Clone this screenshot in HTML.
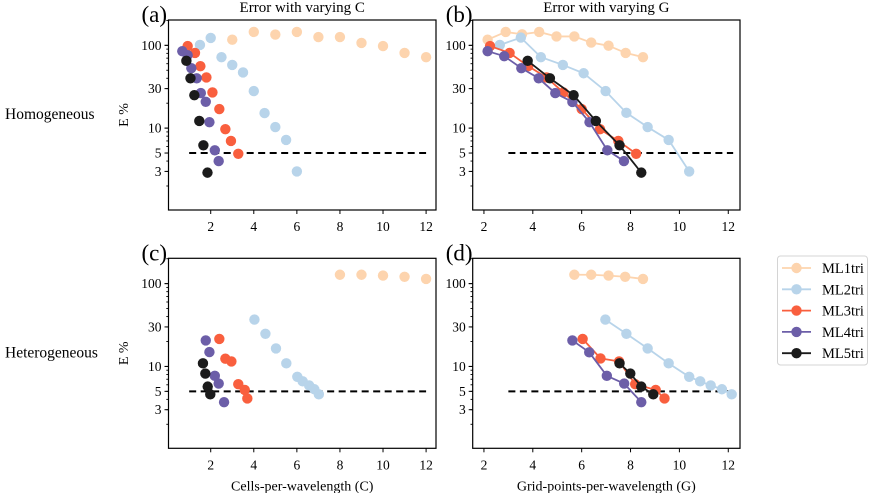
<!DOCTYPE html>
<html><head><meta charset="utf-8"><style>
html,body{margin:0;padding:0;background:#fff}
svg, svg text{font-family:"Liberation Serif","DejaVu Serif",serif}
</style></head><body>
<svg id="chart" width="869" height="493" viewBox="0 0 869 493" xmlns="http://www.w3.org/2000/svg" font-family="Liberation Serif, serif"></svg>
<script>
const seriesNames=["ML1tri","ML2tri","ML3tri","ML4tri","ML5tri"];
const seriesColors=["#fdd4ae","#b8d4ea","#f95f3e","#6c5ea8","#1b1b1b"];
const yTicks=[100,30,10,5,3];
const xTicks=[2,4,6,8,10,12];
// Panel (a): homogeneous, varying C
const aX=[[3,4,5,6,7,8,9,10,11,12],[1.5,2,2.5,3,3.5,4,4.5,5,5.5,6],[0.93,1.27,1.52,1.8,2.08,2.4,2.68,2.94,3.28],[0.68,0.93,1.1,1.35,1.54,1.77,1.94,2.19,2.37],[0.87,1.06,1.24,1.47,1.66,1.85]];
const aY=[[117,145,135,145,126,126,107,98,81,72],[101,123,72,58,47,28,15.2,10.3,7.2,3.0],[98,81,56,41,27,17,9.7,7.0,4.9],[85,76,53,40,26.5,20.8,11.8,5.4,4.0],[65,40,25,12.2,6.2,2.9]];
// Panel (b): homogeneous, varying G
const bX=[[2.15,2.89,3.56,4.26,4.97,5.7,6.39,7.1,7.8,8.51],[2.65,3.51,4.33,5.23,6.08,6.98,7.83,8.7,9.56,10.4],[2.25,3.05,3.81,4.56,5.25,6.0,6.75,7.5,8.23],[2.15,2.83,3.53,4.24,4.92,5.62,6.32,7.05,7.73],[3.79,4.7,5.67,6.58,7.55,8.44]];
const bY=[[117,145,136,145,128,128,108,99,81,72],[101,124,72,58,46,28,15.3,10.3,7.2,3.0],[98,81,56,41,27,17,9.7,7.0,4.9],[85,74,53,40,26.5,20.7,11.8,5.4,4.0],[65,40,25,12.2,6.2,2.9]];
// Panel (c): heterogeneous, varying C
const cX=[[8,9,10,11,12],[4.03,4.54,5.03,5.51,6.02,6.27,6.57,6.81,7.02],[2.4,2.68,2.96,3.28,3.58,3.7],[1.77,1.94,2.19,2.37,2.62],[1.64,1.75,1.86,1.98]];
const cY=[[128,128,125,121,114],[36.8,24.8,16.5,10.9,7.5,6.6,5.9,5.3,4.6],[21.5,12.4,11.5,6.1,5.2,4.1],[20.6,14.9,7.7,6.2,3.7],[10.9,8.2,5.7,4.6]];
// Panel (d): heterogeneous, varying G
const dX=[[5.7,6.39,7.1,7.78,8.51],[6.97,7.83,8.7,9.56,10.4,10.85,11.28,11.74,12.14],[6.04,6.77,7.53,8.19,9.03,9.39],[5.62,6.31,7.03,7.74,8.44],[7.55,7.99,8.44,8.93]];
const dY=[[128,128,125,121,114],[36.8,24.8,16.5,10.9,7.5,6.6,5.9,5.3,4.6],[21.5,12.5,11.5,6.1,5.2,4.1],[20.6,14.8,7.7,6.2,3.7],[10.9,8.2,5.7,4.6]];
const thresholdY=5;

const NS="http://www.w3.org/2000/svg";
const svg=document.getElementById("chart");
function mk(tag,attrs,parent){const e=document.createElementNS(NS,tag);for(const k in attrs)e.setAttribute(k,attrs[k]);if(tag==="text")e.setAttribute("font-family","Liberation Serif, serif");(parent||svg).appendChild(e);return e;}

const panels=[
 {id:"a",xs:aX,ys:aY,lines:false,L:168.5,R:436,T:20,B:210,x0:0.04,x1:12.46,title:"Error with varying C",dash:[1,12],xlabel:null,ylab:true},
 {id:"b",xs:bX,ys:bY,lines:true,L:472.7,R:740,T:20,B:210,x0:1.54,x1:12.48,title:"Error with varying G",dash:[3,12.2],xlabel:null,ylab:false},
 {id:"c",xs:cX,ys:cY,lines:false,L:168.5,R:436,T:258.3,B:448.3,x0:0.04,x1:12.46,title:null,dash:[1,12],xlabel:"Cells-per-wavelength (C)",ylab:true},
 {id:"d",xs:dX,ys:dY,lines:true,L:472.7,R:740,T:258.3,B:448.3,x0:1.54,x1:12.48,title:null,dash:[3,12.2],xlabel:"Grid-points-per-wavelength (G)",ylab:false}
];
const ly0=0.011, ly1=2.306;

panels.forEach(p=>{
 const g=mk("g",{});
 
 
 const sx=v=>p.L+(v-p.x0)/(p.x1-p.x0)*(p.R-p.L);
 const sy=v=>p.B-(Math.log10(v)-ly0)/(ly1-ly0)*(p.B-p.T);
 const th=mk("line",{x1:sx(p.dash[0]),x2:sx(p.dash[1]),y1:sy(thresholdY),y2:sy(thresholdY),stroke:"#000","stroke-width":2,"stroke-dasharray":"7,4.5"},g);
 
 
 p.xs.forEach((xs,si)=>{
  const sg=mk("g",{},g);
  
  
  if(p.lines){
   const pts=xs.map((x,i)=>sx(x)+","+sy(p.ys[si][i])).join(" ");
   const pl=mk("polyline",{points:pts,fill:"none",stroke:seriesColors[si],"stroke-width":1.8},sg);
   
   
  }
  xs.forEach((x,i)=>{
   const c=mk("circle",{cx:sx(x),cy:sy(p.ys[si][i]),r:5.2,fill:seriesColors[si]},sg);
   
   
  });
 });
 const fr=mk("rect",{x:p.L,y:p.T,width:p.R-p.L,height:p.B-p.T,fill:"none",stroke:"#000","stroke-width":1.2},g);
 
 
 xTicks.forEach(t=>{
  const x=sx(t);
  mk("line",{x1:x,x2:x,y1:p.B,y2:p.B+4,stroke:"#000","stroke-width":1},g);
  const tx=mk("text",{x:x,y:p.B+21,"text-anchor":"middle","font-size":13.5},g);
  tx.textContent=t;
  
  
 });
 for(let d=1;d<=100;d*=10){for(let m=1;m<10;m++){const v=d*m;const lv=Math.log10(v);if(lv<ly0||lv>ly1)continue;const y=sy(v);mk("line",{x1:p.L-(m===1?4:2.2),x2:p.L,y1:y,y2:y,stroke:"#000","stroke-width":0.9},g);}}
 yTicks.forEach(t=>{
  const y=sy(t);
  mk("line",{x1:p.L-4,x2:p.L,y1:y,y2:y,stroke:"#000","stroke-width":1},g);
  const tx=mk("text",{x:p.L-7,y:y+4.5,"text-anchor":"end","font-size":13.5},g);
  tx.textContent=t;
  
  
 });
 const pl=mk("text",{x:p.L-27,y:p.T+2,"font-size":23},g);
 pl.textContent="("+p.id+")";
 
 
 if(p.title){const t=mk("text",{x:(p.L+p.R)/2,y:p.T-8,"text-anchor":"middle","font-size":15},g);t.textContent=p.title;
  
  }
 if(p.xlabel){const t=mk("text",{x:(p.L+p.R)/2,y:p.B+42,"text-anchor":"middle","font-size":14},g);t.textContent=p.xlabel;
  
  }
 if(p.ylab){const cy=(p.T+p.B)/2;const t=mk("text",{x:128,y:cy,"text-anchor":"middle","font-size":14,transform:"rotate(-90 128 "+cy+")"},g);t.textContent="E %";
  
  
  const r=mk("text",{x:5,y:cy+4,"font-size":15.5},g);r.textContent=p.id==="a"?"Homogeneous":"Heterogeneous";
  
  }
});

const lg=mk("g",{});


mk("rect",{x:777.5,y:256,width:90,height:109,rx:3,fill:"#fff",stroke:"#d4d4d4","stroke-width":1},lg);
seriesNames.forEach((n,i)=>{
 const y=268+i*21.3;
 const e=mk("g",{},lg);
 
 
 mk("line",{x1:782,x2:811,y1:y,y2:y,stroke:seriesColors[i],"stroke-width":1.8},e);
 mk("circle",{cx:796.5,cy:y,r:5.2,fill:seriesColors[i]},e);
 const t=mk("text",{x:822,y:y+5,"font-size":14.5},e);t.textContent=n;
});
</script>
</body></html>
